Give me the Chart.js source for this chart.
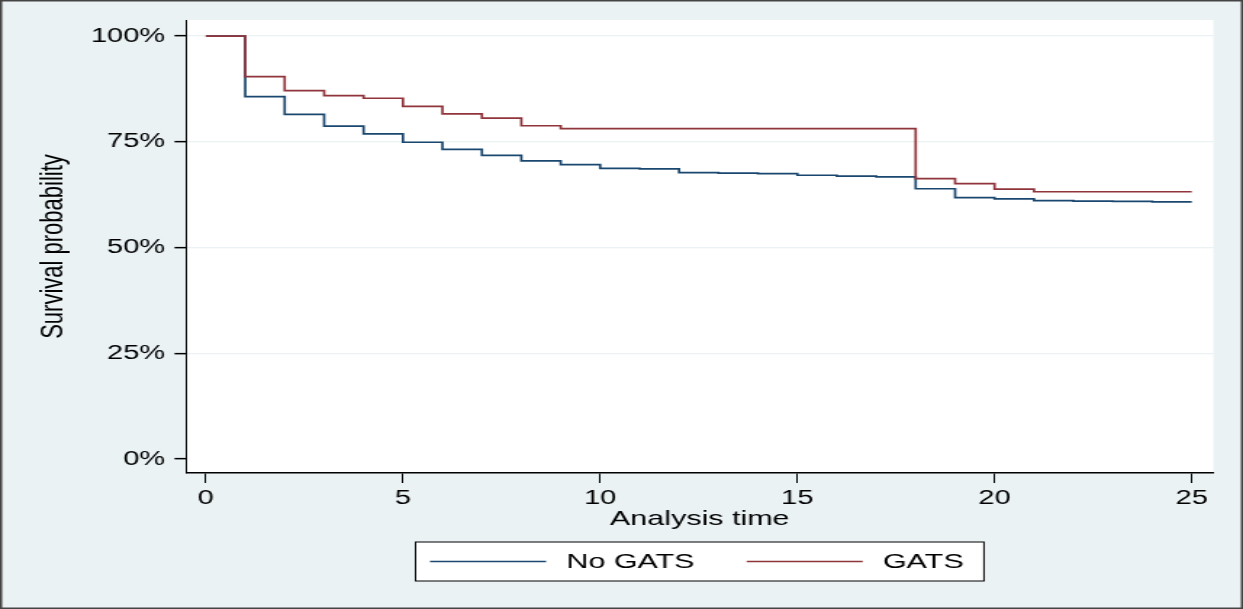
<!DOCTYPE html>
<html>
<head>
<meta charset="utf-8">
<script src="https://cdn.jsdelivr.net/npm/chart.js@4"></script>
<style>
  html, body { margin: 0; padding: 0; background: #eaf2f3; }
  #survival { display: block; }
</style>
</head>
<body>
<!-- drawn narrow and stretched sideways, like the original export -->
<canvas id="survival" width="857" height="609" style="width:1243px;height:609px"></canvas>
<script>
const analysisTime = [0, 1, 2, 3, 4, 5, 6, 7, 8, 9, 10, 11, 12, 13, 14, 15, 16, 17, 18, 19, 20, 21, 22, 23, 24, 25];
const noGats = [100, 85.7, 81.5, 78.7, 76.9, 74.9, 73.2, 71.8, 70.5, 69.6, 68.7, 68.6, 67.7, 67.6, 67.5, 67.1, 66.9, 66.7, 63.9, 61.8, 61.5, 61.1, 61.0, 60.9, 60.8, 60.8];
const gats = [100, 90.4, 87.1, 85.9, 85.3, 83.4, 81.6, 80.6, 78.8, 78.1, 78.1, 78.1, 78.1, 78.1, 78.1, 78.1, 78.1, 78.1, 66.3, 65.1, 63.8, 63.2, 63.2, 63.2, 63.2, 63.2];
const seriesNames = ['No GATS', 'GATS'];
const xTicks = [0, 5, 10, 15, 20, 25];
const yTicks = [0, 25, 50, 75, 100];

const navy = '#1a476f';
const maroon = '#90353b';
const fontFamily = '"Liberation Sans", Arial, sans-serif';

Chart.defaults.font.family = fontFamily;
Chart.defaults.color = '#000';

function toPoints(values) {
  return analysisTime.map((t, i) => ({ x: t, y: values[i] }));
}

const stataFrame = {
  id: 'stataFrame',
  beforeDraw(chart) {
    const { ctx, width, height, chartArea: a } = chart;
    ctx.save();
    ctx.fillStyle = '#eaf2f3';
    ctx.fillRect(0, 0, width, height);
    ctx.fillStyle = '#fff';
    ctx.fillRect(a.left, a.top, a.right - a.left, a.bottom - a.top);
    ctx.strokeStyle = '#444';
    ctx.lineWidth = 1.5;
    ctx.strokeRect(0.75, 0.75, width - 1.5, height - 1.5);
    ctx.restore();
  },
  afterDraw(chart) {
    // boxed legend under the x axis title
    const { ctx, chartArea: a } = chart;
    ctx.save();
    ctx.font = '21px ' + fontFamily;
    const items = chart.data.datasets.map(ds => ({
      label: ds.label,
      color: ds.borderColor,
      w: ctx.measureText(ds.label).width
    }));
    const lineLen = 80, gap = 14, itemGap = 36, padL = 10, padR = 14;
    let total = padL + padR + itemGap * (items.length - 1);
    items.forEach(it => { total += lineLen + gap + it.w; });
    const left = (a.left + a.right) / 2 - total / 2;
    const top = a.bottom + 69;
    const h = 39;
    const cy = top + h / 2;
    ctx.fillStyle = '#fff';
    ctx.fillRect(left, top, total, h);
    ctx.strokeStyle = '#000';
    ctx.lineWidth = 1;
    ctx.strokeRect(left, top, total, h);
    let x = left + padL;
    items.forEach(it => {
      ctx.strokeStyle = it.color;
      ctx.lineWidth = 1.7;
      ctx.beginPath();
      ctx.moveTo(x, cy);
      ctx.lineTo(x + lineLen, cy);
      ctx.stroke();
      x += lineLen + gap;
      ctx.fillStyle = '#000';
      ctx.textAlign = 'left';
      ctx.textBaseline = 'middle';
      ctx.fillText(it.label, x, cy + 1);
      x += it.w + itemGap;
    });
    ctx.restore();
  }
};

new Chart(document.getElementById('survival'), {
  type: 'line',
  data: {
    datasets: [{
      label: seriesNames[0],
      data: toPoints(noGats),
      borderColor: navy,
      backgroundColor: navy,
      borderWidth: 1.7,
      stepped: 'before',
      pointRadius: 0,
      fill: false,
      order: 1
    }, {
      label: seriesNames[1],
      data: toPoints(gats),
      borderColor: maroon,
      backgroundColor: maroon,
      borderWidth: 1.7,
      stepped: 'before',
      pointRadius: 0,
      fill: false,
      order: 0
    }]
  },
  options: {
    responsive: false,
    devicePixelRatio: 1,
    animation: false,
    events: [],
    layout: {
      padding: { left: 0, right: 20.4, top: 20, bottom: 76 }
    },
    plugins: {
      legend: { display: false },
      tooltip: { enabled: false }
    },
    scales: {
      x: {
        type: 'linear',
        min: -0.5,
        max: 25.55,
        afterBuildTicks: (s) => { s.ticks = xTicks.map(v => ({ value: v })); },
        afterFit: (s) => { s.height = 60; },
        grid: {
          drawOnChartArea: false,
          tickLength: 10,
          tickColor: '#000',
          tickWidth: 1
        },
        border: { color: '#000', width: 1.5 },
        ticks: {
          font: { size: 20 },
          padding: 3,
          maxRotation: 0
        },
        title: {
          display: true,
          text: 'Analysis time',
          font: { size: 21 },
          padding: { top: 0, bottom: 1 }
        }
      },
      y: {
        min: -3.3,
        max: 103.8,
        afterBuildTicks: (s) => { s.ticks = yTicks.map(v => ({ value: v })); },
        afterFit: (s) => { s.width = 128.3; },
        grid: {
          color: (c) => (c.tick && c.tick.value === 0 ? 'rgba(0,0,0,0)' : '#eaf2f3'),
          lineWidth: 1.3,
          tickLength: 8,
          tickColor: '#000',
          tickWidth: 1.5
        },
        border: { color: '#000', width: 1 },
        ticks: {
          font: { size: 20 },
          padding: 6.5,
          callback: (v) => v + '%'
        },
        title: {
          display: true,
          text: 'Survival probability',
          font: { size: 22 },
          padding: { top: 24, bottom: 0 }
        }
      }
    }
  },
  plugins: [stataFrame]
});
</script>
</body>
</html>
